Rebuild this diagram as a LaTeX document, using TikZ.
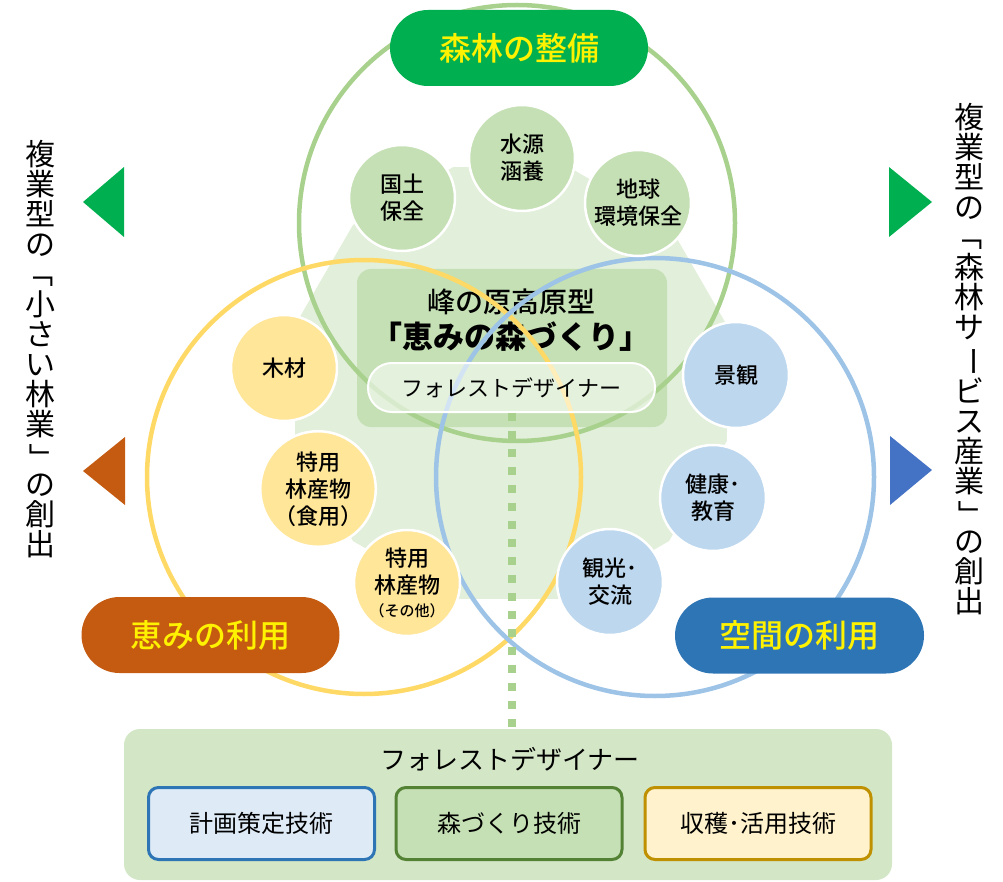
\documentclass[tikz,border=0pt]{standalone}
\usepackage{fontspec}
\setmainfont{Noto Sans CJK JP}
\newfontfamily\jpmed{Noto Sans CJK JP}[UprightFont={* Medium}]
\usetikzlibrary{shapes.geometric}
\definecolor{bgpoly}{HTML}{E2EFDA}
\definecolor{ringgreen}{HTML}{A9D18E}
\definecolor{ringyellow}{HTML}{FFD966}
\definecolor{ringblue}{HTML}{9DC3E6}
\definecolor{cgreen}{HTML}{C5E0B4}
\definecolor{cyellow}{HTML}{FFE699}
\definecolor{cblue}{HTML}{BDD7EE}
\definecolor{pgreen}{HTML}{00B050}
\definecolor{porange}{HTML}{C55A11}
\definecolor{pblue}{HTML}{2E75B6}
\definecolor{tblue}{HTML}{4472C4}
\definecolor{botbg}{HTML}{D3E6C6}
\definecolor{b1fill}{HTML}{DEEBF7}
\definecolor{b1draw}{HTML}{2E75B6}
\definecolor{b2draw}{HTML}{548235}
\definecolor{b3fill}{HTML}{FFF2CC}
\definecolor{b3draw}{HTML}{BF9000}
\newcommand{\vrot}[1]{\rotatebox[origin=c]{-90}{#1}}
\begin{document}
\begin{tikzpicture}[x=1pt,y=-1pt,
  ring/.style={line width=4.5pt},
  sc/.style={circle, draw=white, line width=2.5pt, minimum size=106pt, inner sep=0pt, align=center, font=\jpmed\fontsize{22}{27}\selectfont},
  bigpill/.style={rounded corners=38pt, minimum width=258pt, minimum height=76pt, inner sep=0pt, text=yellow, font=\jpmed\fontsize{32}{32}\selectfont},
  tbox/.style={rounded corners=10pt, line width=3pt, minimum width=226pt, minimum height=72pt, inner sep=0pt, font=\fontsize{24}{24}\selectfont},
  vtext/.style={align=center, inner sep=0pt, font=\fontsize{30}{30}\selectfont},
  dotline/.style={ringgreen, line width=8pt, dash pattern=on 8pt off 10pt}
]
\useasboundingbox (0,0) rectangle (1003,882);
% background dodecagon
\node[regular polygon, regular polygon sides=12, minimum size=447pt, inner sep=0pt, fill=bgpoly] (bg) at (511,383) {};
% central box
\node[fill=cgreen, rounded corners=14pt, minimum width=310pt, minimum height=158pt, inner sep=0pt] (cbox) at (512,348) {};
\node[font=\jpmed\fontsize{28}{28}\selectfont] (t1) at (511,302) {峰の原高原型};
\node[font=\fontsize{31}{31}\selectfont\bfseries] (t2) at (511,337) {「恵みの森づくり」};
% rings
\draw[ring, ringgreen] (517,223) circle[radius=218pt];
\draw[ring, ringyellow] (364,477) circle[radius=217pt];
\draw[ring, ringblue] (655,477) circle[radius=219pt];
% pill
\node[fill=white, fill opacity=0.55, draw=white, line width=2pt, rounded corners=24pt, minimum width=287pt, minimum height=49pt, inner sep=0pt, text opacity=1, font=\fontsize{22}{22}\selectfont] (fd) at (511.5,387.5) {フォレストデザイナー};
% bottom box
\node[fill=botbg, rounded corners=16pt, minimum width=768pt, minimum height=151pt, inner sep=0pt] (bot) at (508,804.5) {};
\node[font=\fontsize{26}{26}\selectfont] (bt) at (510,759) {フォレストデザイナー};
\node[tbox, fill=b1fill, draw=b1draw] (k1) at (261.5,823.5) {計画策定技術};
\node[tbox, fill=cgreen, draw=b2draw] (k2) at (509,823.5) {森づくり技術};
\node[tbox, fill=b3fill, draw=b3draw] (k3) at (758,823.5) {収穫･活用技術};
% dotted connector
\draw[dotline] (fd.south) -- (fd.south |- bot.north);
% small circles
\node[sc, fill=cgreen] (c1) at (402,198) {国土\\保全};
\node[sc, fill=cgreen] (c2) at (522,158) {水源\\涵養};
\node[sc, fill=cgreen] (c3) at (638,203) {地球\\環境保全};
\node[sc, fill=cyellow] (y1) at (284,368) {木材};
\node[sc, fill=cyellow, minimum size=108pt] (y2) at (318,489) {特用\\林産物\\（食用）};
\node[sc, fill=cyellow] (y3) at (407,583) {特用\\林産物\\[-4pt]{\fontsize{15}{15}\selectfont（その他）}};
\node[sc, fill=cblue] (b1) at (736,375) {景観};
\node[sc, fill=cblue] (b2) at (713,498) {健康･\\教育};
\node[sc, fill=cblue] (b3) at (610,582) {観光･\\交流};
% big pills
\node[bigpill, fill=pgreen] (p1) at (519,48) {森林の整備};
\node[bigpill, fill=porange] (p2) at (210.5,635) {恵みの利用};
\node[bigpill, fill=pblue, minimum width=249pt] (p3) at (799.5,635.5) {空間の利用};
% triangles
\fill[pgreen] (83,202) -- (124,167) -- (124,237) -- cycle;
\fill[porange] (83,471) -- (125,437) -- (125,505) -- cycle;
\fill[pgreen] (932,202) -- (889,167) -- (889,237) -- cycle;
\fill[tblue] (932,470) -- (890,436) -- (890,505) -- cycle;
% vertical texts
\node[vtext] (vl) at (40,349) {複\\業\\型\\の\\\vrot{「}\\小\\さ\\い\\林\\業\\\vrot{」}\\の\\創\\出};
\node[vtext] (vr) at (969,359) {複\\業\\型\\の\\\vrot{「}\\森\\林\\サ\\\vrot{ー}\\ビ\\ス\\産\\業\\\vrot{」}\\の\\創\\出};
\end{tikzpicture}
\end{document}
